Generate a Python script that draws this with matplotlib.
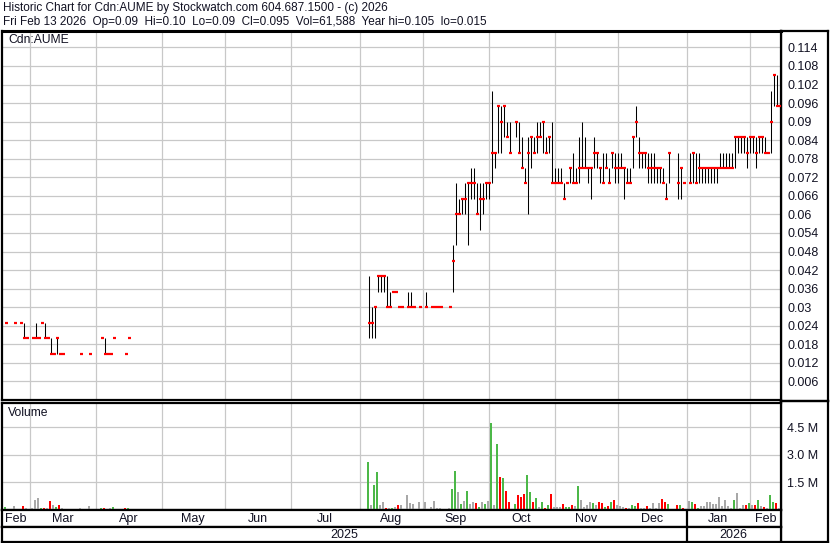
import numpy as np
import matplotlib
matplotlib.use("Agg")
import matplotlib.pyplot as plt

plt.rcParams["font.family"] = ["Liberation Sans", "DejaVu Sans"]

# ---- data -------------------------------------------------------------------
# day = trading-day number since the left edge (mid Feb 2025)
# prices in units of $0.001, volume in millions of shares
days = [1, 4, 6, 7, 8, 10, 11, 12, 13, 14, 15, 16, 17, 18, 19, 20, 26, 29, 33, 34,
        35, 36, 37, 41, 42,
        122, 123, 124, 125, 126, 127, 128, 129, 130, 131, 132, 133, 135, 136, 137,
        139, 141, 143, 144, 145, 146, 149,
        150, 151, 152, 153, 154, 155, 156, 157, 158, 159, 160, 161, 162, 163, 164,
        165, 166, 167, 168, 169, 171, 172, 173, 174, 175, 176, 177, 178, 179, 180,
        181, 182, 183, 184, 185, 186, 187, 188, 189, 190, 191, 192, 193, 194, 195,
        196, 197, 198, 199, 200, 201, 202, 203, 204, 205, 206, 207, 208, 209, 210,
        211, 212, 213, 214, 215, 216, 217, 218, 219, 220, 221, 222, 225, 226, 227,
        229, 230, 231, 232, 233, 234, 235, 236, 237, 238, 239, 240, 241, 242, 243,
        244, 245, 246, 247, 248, 249, 250, 251, 252, 253, 254, 255, 256, 257, 258,
        259]
high = [25, 25, 25, 25, 20, 20, 25, 20, 25, 25, 20, 20, 15, 20, 15, 15, 15, 15, 20, 20,
        15, 15, 20, 15, 20,
        40, 30, 30, 40, 40, 40, 40, 35, 35, 35, 30, 30, 35, 35, 30,
        30, 35, 30, 30, 30, 30, 30,
        50, 70, 65, 65, 70, 70, 75, 75, 70, 70, 70, 70, 70, 100, 80,
        95, 95, 95, 90, 90, 90, 90, 85, 75, 85, 85, 85, 90, 90, 90,
        85, 85, 90, 75, 75, 75, 70, 70, 75, 80, 75, 85, 90, 85, 75,
        75, 85, 80, 75, 80, 80, 75, 80, 80, 80, 80, 75, 75, 75, 85,
        95, 85, 80, 80, 80, 80, 80, 75, 75, 75, 70, 80, 80, 75, 70,
        80, 80, 80, 80, 75, 75, 75, 75, 75, 75, 80, 80, 80, 80, 80,
        85, 85, 85, 85, 85, 85, 85, 85, 85, 85, 85, 80, 100, 105, 105,
        100]
low = [25, 25, 25, 20, 20, 20, 20, 20, 25, 20, 20, 15, 15, 15, 15, 15, 15, 15, 20, 15,
       15, 15, 20, 15, 20,
       20, 20, 20, 35, 35, 35, 30, 30, 35, 35, 30, 30, 30, 30, 30,
       30, 30, 30, 30, 30, 30, 30,
       35, 50, 60, 60, 60, 50, 65, 65, 60, 55, 60, 65, 65, 70, 75,
       80, 80, 85, 85, 80, 85, 80, 75, 70, 60, 75, 80, 80, 85, 80,
       80, 80, 70, 70, 70, 70, 65, 70, 70, 70, 70, 70, 75, 75, 70,
       65, 75, 75, 70, 70, 75, 70, 75, 70, 70, 75, 65, 70, 70, 75,
       85, 75, 75, 75, 70, 70, 70, 70, 70, 70, 65, 70, 65, 65, 70,
       70, 70, 70, 70, 70, 70, 70, 70, 70, 70, 75, 75, 75, 75, 75,
       75, 80, 80, 80, 75, 80, 80, 75, 80, 80, 80, 80, 80, 95, 95,
       90]
close = [25, 25, 25, 20, 20, 20, 20, 20, 25, 20, 20, 15, 15, 20, 15, 15, 15, 15, 20, 15,
         15, 15, 20, 15, 20,
         25, 25, 30, 40, 40, 40, 30, 30, 35, 35, 30, 30, 30, 30, 30,
         30, 30, 30, 30, 30, 30, 30,
         45, 60, 60, 65, 65, 70, 70, 70, 60, 65, 65, 70, 70, 80, 80,
         95, 90, 95, 85, 80, 90, 80, 75, 70, 80, 85, 80, 85, 85, 90,
         80, 85, 70, 70, 70, 70, 65, 70, 75, 70, 70, 75, 75, 75, 75,
         75, 80, 80, 75, 70, 75, 70, 80, 75, 75, 75, 75, 70, 70, 85,
         90, 80, 80, 80, 75, 75, 75, 75, 75, 70, 65, 80, 70, 75, 70,
         70, 80, 70, 75, 75, 75, 75, 75, 75, 75, 75, 75, 75, 75, 75,
         85, 85, 85, 85, 80, 85, 85, 80, 85, 85, 80, 80, 90, 105, 95,
         95]
volume = [.13, .18, .05, .18, .09, .09, .51, .62, .09, .09, .09, .45, .24, .11, .24, .09,
          .09, .18, .09, .09, .05, .09, .15, .09, .09,
          2.58, .24, 1.33, 2.04, .24, .40, .07, .07, .07, .13, .24, .24, .78, .35, .31,
          .40, .42, .13, .45, .09, .09, .07,
          1.13, 2.11, .94, .29, .45, 1.02, .29, .42, .35, .11, .42, .29, .47, 4.73, .25,
          3.58, 1.76, 1.71, 1.02, .42, .29, .78, .69, .84, 1.87, .96, .42, .62, .15, .42,
          .07, .24, .84, .13, .13, .13, .29, .11, .15, .24, .20, 1.27, .51, .11, .24,
          .40, .36, .25, .40, .35, .15, .18, .40, .53, .24, .18, .11, .07, .09, .24,
          .18, .35, .07, .07, .18, .09, .35, .09, .35, .56, .42, .29, .24, .22, .07,
          .45, .40, .31, .07, .18, .18, .42, .42, .31, .29, .67, .18, .53, .18, .07,
          .51, .89, .07, .24, .24, .36, .24, .24, .51, .18, .15, .07, .78, .40, .35,
          .06]
prev_close_before = 20  # close before the first bar (first bar is an up day)

month_starts = [9, 31, 53, 74, 96, 119, 140, 162, 184, 205, 228, 249]
month_names = ["Feb", "Mar", "Apr", "May", "Jun", "Jul", "Aug", "Sep", "Oct",
               "Nov", "Dec", "Jan", "Feb"]
years = ["2025", "2026"]
year_start = 228
price_ticks = np.round(np.arange(1, 20) * 0.006, 3)
vol_ticks = [1.5, 3.0, 4.5]
vol_labels = ["1.5 M", "3.0 M", "4.5 M"]

title1 = "Historic Chart for Cdn:AUME by Stockwatch.com 604.687.1500 - (c) 2026"
title2 = ("Fri Feb 13 2026  Op=0.09  Hi=0.10  Lo=0.09  Cl=0.095  Vol=61,588  "
          "Year hi=0.105  lo=0.015")

# ---- layout -----------------------------------------------------------------
W, H = 830, 543
GRID = "#c8c8c8"
TXT = "#111122"
X0 = -1 / 6
X1 = X0 + 779 / 3


def px_rect(x0, y0, x1, y1):
    return [x0 / W, 1 - y1 / H, (x1 - x0) / W, (y1 - y0) / H]


def frame(ax, lw=1.6):
    for s in ax.spines.values():
        s.set_color("black")
        s.set_linewidth(lw)


d = np.array(days, dtype=float)
hi = np.array(high) / 1000
lo = np.array(low) / 1000
cl = np.array(close) / 1000
vol = np.array(volume)
prev = np.concatenate([[prev_close_before / 1000], cl[:-1]])
vcol = np.where(cl > prev, "#4cb848", np.where(cl < prev, "#ff0000", "#a8a8a8"))

fig = plt.figure(figsize=(W / 100, H / 100), dpi=100)

# right label column (frames only)
ax_rp = fig.add_axes(px_rect(781, 31, 828, 401))
ax_rv = fig.add_axes(px_rect(781, 401, 828, 542))
for a in (ax_rp, ax_rv):
    a.set_xticks([])
    a.set_yticks([])
    a.patch.set_visible(False)
    frame(a)

# price panel
ax_p = fig.add_axes(px_rect(2, 31, 781, 400))
ax_p.set_xlim(X0, X1)
ax_p.set_ylim(0, 0.1193)
ax_p.set_xticks(month_starts)
ax_p.set_xticklabels([])
ax_p.set_yticks(price_ticks)
ax_p.set_yticklabels([f"{v:g}" for v in price_ticks])
ax_p.yaxis.tick_right()
ax_p.tick_params(length=0, pad=4.5, labelsize=9, labelcolor=TXT)
ax_p.grid(color=GRID, lw=0.9)
ax_p.set_axisbelow(True)
frame(ax_p)
ax_p.spines["top"].set_linewidth(2.2)
ax_p.vlines(d, lo, hi, color="black", lw=0.75, zorder=3)
ax_p.hlines(cl, d - 0.17, d + 0.75, color="#ff0000", lw=1.6, zorder=4)
ax_p.text(0.008, 0.975, "Cdn:AUME", transform=ax_p.transAxes, fontsize=8.7,
          color=TXT, va="center", ha="left")

# volume panel
ax_v = fig.add_axes(px_rect(2, 402.5, 781, 509.5))
ax_v.set_xlim(X0, X1)
ax_v.set_ylim(0, 5.84)
ax_v.set_xticks(month_starts)
ax_v.set_xticklabels([])
ax_v.set_yticks(vol_ticks)
ax_v.set_yticklabels(vol_labels)
ax_v.yaxis.tick_right()
ax_v.tick_params(length=0, pad=4.5, labelsize=9, labelcolor=TXT)
ax_v.grid(color=GRID, lw=0.9)
ax_v.set_axisbelow(True)
frame(ax_v)
ax_v.bar(d - 0.33, vol, width=0.67, color=vcol, zorder=3)
ax_v.text(0.008, 0.9, "Volume", transform=ax_v.transAxes, fontsize=8.7,
          color=TXT, va="center", ha="left")

# month row
bounds = [0] + month_starts + [X1]
ax_m = fig.add_axes(px_rect(2, 509.5, 781, 526.5))
ax_m.set_xlim(X0, X1)
ax_m.set_ylim(0, 1)
ax_m.set_xticks([])
ax_m.set_yticks([])
frame(ax_m)
for name, a, b in zip(month_names, bounds[:-1], bounds[1:]):
    ax_m.text((a + b) / 2, 0.45, name, ha="center", va="center", fontsize=9, color=TXT)
ax_m.axvline(year_start, color="black", lw=1.6)

# year row
ax_y = fig.add_axes(px_rect(2, 526.5, 781, 542))
ax_y.set_xlim(X0, X1)
ax_y.set_ylim(0, 1)
ax_y.set_xticks([])
ax_y.set_yticks([])
frame(ax_y)
ybounds = [0, year_start, X1]
for name, a, b in zip(years, ybounds[:-1], ybounds[1:]):
    ax_y.text((a + b) / 2, 0.45, name, ha="center", va="center", fontsize=9, color=TXT)
ax_y.axvline(year_start, color="black", lw=1.6)

# header
fig.text(3 / W, 1 - 2 / H, title1, ha="left", va="top", fontsize=8.5, color=TXT)
fig.text(3 / W, 1 - 16.5 / H, title2, ha="left", va="top", fontsize=8.5, color=TXT)

fig.savefig("out.png", dpi=100, facecolor="white")
